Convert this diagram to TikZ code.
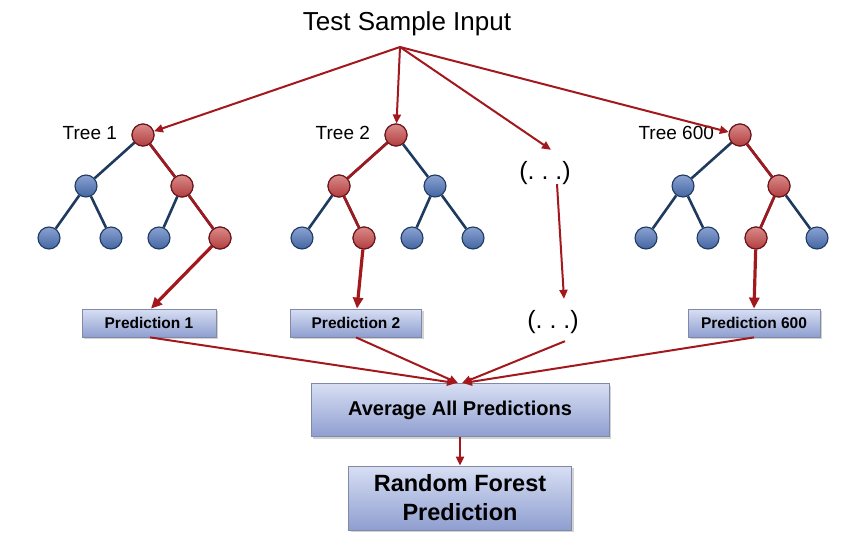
\documentclass[tikz,border=0pt]{standalone}
\usepackage{fontspec}
\setmainfont{Liberation Sans}
\usetikzlibrary{positioning,arrows.meta,shadows}
\definecolor{ink}{HTML}{1F3A5F}
\definecolor{accent}{HTML}{A3181C}
\definecolor{redtop}{HTML}{DA8A8A}
\definecolor{redbot}{HTML}{B23E3E}
\definecolor{bluetop}{HTML}{8AA2D2}
\definecolor{bluebot}{HTML}{4466A3}
\definecolor{boxtop}{HTML}{D8DFF4}
\definecolor{boxbot}{HTML}{8E9ECF}
\definecolor{boxline}{HTML}{8089A8}

\tikzset{
  blueball/.style={circle,minimum size=22pt,inner sep=0pt,draw=ink,line width=1.1pt,top color=bluetop,bottom color=bluebot},
  redball/.style={circle,minimum size=22pt,inner sep=0pt,draw=accent!70!black,line width=1.1pt,top color=redtop,bottom color=redbot},
  branch/.style={ink,line width=2.6pt},
  hotpath/.style={accent,line width=2.6pt},
  flow/.style={-{Triangle[length=9pt,width=8pt]},accent,line width=2pt},
  bigflow/.style={-{Triangle[length=11pt,width=10pt]},accent,line width=3.2pt},
  predbox/.style={draw=boxline,line width=0.8pt,top color=boxtop,bottom color=boxbot,
    font=\fontsize{15.5}{17}\selectfont\bfseries,minimum height=28pt,
    drop shadow={shadow xshift=2pt,shadow yshift=-2pt,opacity=.35}},
  dots/.style={font=\fontsize{25}{28}\selectfont}
}

\begin{document}
\begin{tikzpicture}[x=1pt,y=-1pt]
  \useasboundingbox (0,0) rectangle (850,553);
  \fill[white] (0,0) rectangle (850,553);

  \node[font=\fontsize{26}{29}\selectfont] (input) at (407,24) {Test Sample Input};
  \coordinate (fork) at (400,47);

  % the three trees, all blue first
  \foreach \t/\x/\lab in {a/143/{Tree 1}, b/396/{Tree 2}, c/740/{Tree 600}}{
    \node[blueball] (\t0) at (\x,135) {};
    \node[blueball] (\t1) at (\x-57,186) {};
    \node[blueball] (\t2) at (\x+39,186) {};
    \node[blueball] (\t11) at (\x-94,238) {};
    \node[blueball] (\t12) at (\x-32,238) {};
    \node[blueball] (\t21) at (\x+16,238) {};
    \node[blueball] (\t22) at (\x+77,238) {};
    \draw[branch] (\t1) -- (\t0) -- (\t2);
    \draw[branch] (\t11) -- (\t1) -- (\t12);
    \draw[branch] (\t21) -- (\t2) -- (\t22);
    \node[left=11pt of \t0,yshift=2pt,font=\fontsize{19}{21}\selectfont] (\t lab) {\lab};
  }

  % the path that the sample takes
  \foreach \t/\u/\v in {a/2/22, b/1/12, c/2/21}{
    \node[redball] (\t0) at (\t0) {};
    \node[redball] (\t\u) at (\t\u) {};
    \node[redball] (\t\v) at (\t\v) {};
    \draw[hotpath] (\t0) -- (\t\u) -- (\t\v);
  }

  \node[dots] (dots1) at (545,173) {(.\ .\ .)};
  \node[dots] (dots2) at (553,322) {(.\ .\ .)};

  \node[predbox,minimum width=134pt] (p1) at (149,323) {Prediction 1};
  \node[predbox,minimum width=131pt] (p2) at (356,323) {Prediction 2};
  \node[predbox,minimum width=132pt] (p3) at (754,323) {Prediction 600};

  \node[predbox,minimum width=298pt,minimum height=53pt,font=\fontsize{20}{23}\selectfont\bfseries] (avg) at (460,410) {Average All Predictions};
  \node[predbox,minimum width=223pt,minimum height=64pt,align=center,font=\fontsize{23.5}{29}\selectfont\bfseries] (rf) at (460,498) {Random Forest\\Prediction};

  % input to the trees
  \draw[flow] (fork) -- (a0);
  \draw[flow] (fork) -- (b0);
  \draw[flow] (fork) -- ([xshift=6pt,yshift=8pt]dots1.north);
  \draw[flow] (fork) -- (c0);

  % leaves to predictions
  \draw[bigflow] (a22) -- ([xshift=2pt]p1.north);
  \draw[bigflow] (b12) -- ([xshift=1pt]p2.north);
  \draw[bigflow] (c21) -- (p3.north);
  \draw[flow] ([xshift=12pt,yshift=4pt]dots1.south) -- ([xshift=11pt,yshift=8pt]dots2.north);

  % predictions to the average
  \draw[flow] ([xshift=1pt]p1.south) -- ([xshift=-4pt]avg.north);
  \draw[flow] (p2.south) -- ([xshift=-2pt]avg.north);
  \draw[flow] ([xshift=12pt,yshift=-4pt]dots2.south) -- ([xshift=2pt]avg.north);
  \draw[flow] (p3.south) -- ([xshift=3pt]avg.north);

  \draw[flow] (avg.south) -- (rf.north);
\end{tikzpicture}
\end{document}
